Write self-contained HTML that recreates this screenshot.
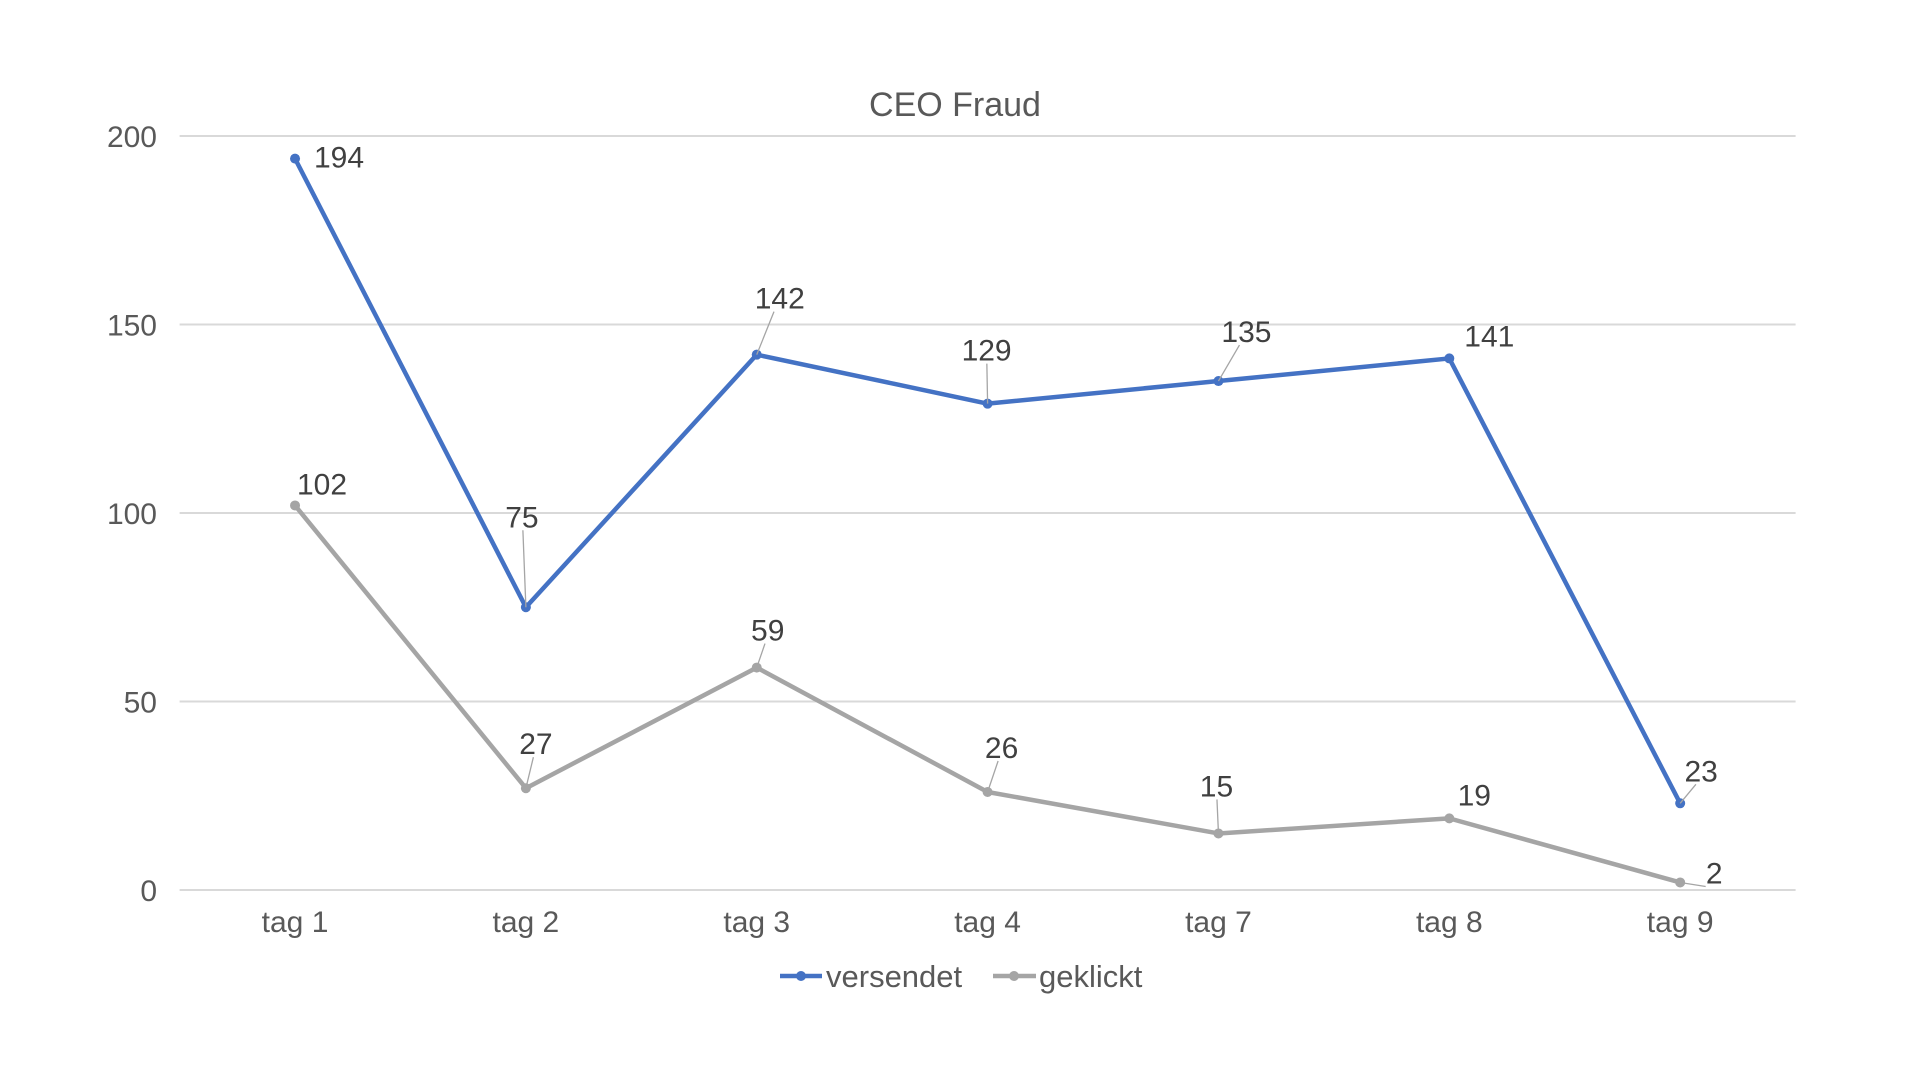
<!DOCTYPE html>
<html><head><meta charset="utf-8"><style>
html,body{margin:0;padding:0;background:#fff;}
svg{display:block;font-family:"Liberation Sans",sans-serif;}
</style></head><body>
<svg id="chart" width="1920" height="1080" viewBox="0 0 1920 1080">
<rect width="1920" height="1080" fill="#fff"/>
<text x="955" y="116" text-anchor="middle" font-size="34" fill="#595959">CEO Fraud</text>
<g id="grid"></g>
<g id="yaxis"></g>
<g id="xaxis"></g>
<g id="series"></g>
<g id="labels"></g>
<g>
 <g>
  <line x1="780" y1="976" x2="822" y2="976" stroke="#4472C4" stroke-width="4.5"/>
  <circle cx="801" cy="976" r="5" fill="#4472C4"/>
  <text x="826" y="987" font-size="31" fill="#595959">versendet</text>
 </g>
 <g>
  <line x1="993" y1="976" x2="1036" y2="976" stroke="#A5A5A5" stroke-width="4.5"/>
  <circle cx="1014" cy="976" r="5" fill="#A5A5A5"/>
  <text x="1039" y="987" font-size="31" fill="#595959">geklickt</text>
 </g>
</g>
</svg>
<script>
const categories = ["tag 1","tag 2","tag 3","tag 4","tag 7","tag 8","tag 9"];
const versendet = [194,75,142,129,135,141,23];
const geklickt = [102,27,59,26,15,19,2];
const yTicks = [0,50,100,150,200];
// label offsets (layout, px) relative to point: [dx, dy, leader]
const versendetLabelOffsets = [[44,-2,0],[-4,-91,1],[23,-57,1],[-1,-54,1],[28,-50,1],[40,-23,0],[21,-33,1]];
const geklicktLabelOffsets = [[27,-22,0],[10,-45,1],[11,-38,1],[14,-45,1],[-2,-48,1],[25,-24,0],[34,-10,1]];

const NS = "http://www.w3.org/2000/svg";
const L = 179.6, R = 1795.6, Y0 = 890, Y1 = 136, YMAX = 200;
const band = (R - L) / categories.length;
const xs = i => L + band * (i + 0.5);
const ys = v => Y0 - (v / YMAX) * (Y0 - Y1);
function mk(tag, attrs, parent){const e=document.createElementNS(NS,tag);for(const k in attrs)e.setAttribute(k,attrs[k]);parent.appendChild(e);return e;}

const grid = document.getElementById('grid'), yax = document.getElementById('yaxis'), xax = document.getElementById('xaxis');
yTicks.forEach(t => {
  const ln = mk('line',{x1:L,x2:R,y1:ys(t),y2:ys(t),stroke:'#D9D9D9','stroke-width':2},grid);
  
  
  const tx = mk('text',{x:157,y:ys(t)+11,'text-anchor':'end','font-size':30,fill:'#595959'},yax);
  tx.textContent = t;
  
  
});
categories.forEach((c,i) => {
  const tx = mk('text',{x:xs(i),y:932,'text-anchor':'middle','font-size':30,fill:'#595959'},xax);
  tx.textContent = c;
  
  
});

const sg = document.getElementById('series'), lg = document.getElementById('labels');
function drawSeries(vals, color, name, offs){
  const pts = vals.map((v,i)=>xs(i)+','+ys(v)).join(' ');
  const pl = mk('polyline',{points:pts,fill:'none',stroke:color,'stroke-width':4.5,'stroke-linejoin':'round'},sg);
  
  
  vals.forEach((v,i)=>{
    const x=xs(i), y=ys(v), o=offs[i];
    const c = mk('circle',{cx:x,cy:y,r:5,fill:color},sg);
    
    
    const lx=x+o[0], ly=y+o[1];
    if(o[2]){
      const ll = mk('line',{x1:x,y1:y,x2:lx - o[0]*0.25,y2:ly+14,stroke:'#A5A5A5','stroke-width':1.3},lg);
      
      
    }
    const t = mk('text',{x:lx,y:ly+11,'text-anchor':'middle','font-size':30,fill:'#404040'},lg);
    t.textContent = v;
    
    
  });
}
drawSeries(geklickt,'#A5A5A5','geklickt',geklicktLabelOffsets);
drawSeries(versendet,'#4472C4','versendet',versendetLabelOffsets);
</script>
</body></html>
